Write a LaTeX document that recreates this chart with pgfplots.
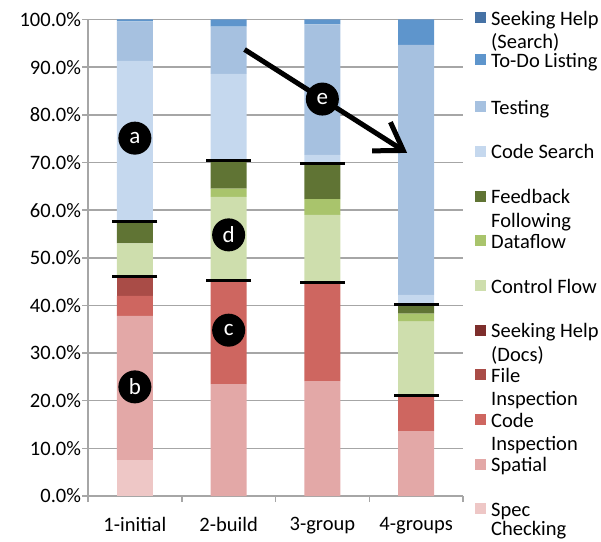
\documentclass[border=0pt]{standalone}
\usepackage{fontspec}
\setmainfont{Carlito}
\usepackage{pgfplots}
\pgfplotsset{compat=1.18}
\usetikzlibrary{arrows.meta}
\definecolor{gridgray}{HTML}{A6A6A6}
\definecolor{cSearch}{HTML}{4672A5}
\definecolor{cTodo}{HTML}{5E95CC}
\definecolor{cTest}{HTML}{A6C1E0}
\definecolor{cCodeS}{HTML}{C5D8EE}
\definecolor{cFeed}{HTML}{607434}
\definecolor{cData}{HTML}{A9C46C}
\definecolor{cCtrl}{HTML}{CEDEAD}
\definecolor{cDocs}{HTML}{7D2E2C}
\definecolor{cFile}{HTML}{A94C47}
\definecolor{cCodeI}{HTML}{CE6660}
\definecolor{cSpat}{HTML}{E3A8A7}
\definecolor{cSpec}{HTML}{EEC7C6}
\newcommand{\lfont}{\fontsize{20.5}{24}\selectfont}
\newcommand{\legitem}[5][31]{%
  \fill[#2] (387,{496-#3-5.5}) rectangle (398,{496-#3+5.5});
  \node[anchor=base west,inner sep=0pt,font=\lfont] at (403,{496-#3-7.5}) {#4};
  \node[anchor=base west,inner sep=0pt,font=\lfont] at (403,{496-#3-#1}) {#5};
}
\tikzset{lett/.style={circle, fill=black, inner sep=0pt, minimum size=33pt, text=white, font=\fontsize{23}{26}\selectfont}}
\begin{document}
\begin{tikzpicture}
\begin{axis}[
  at={(0pt,0pt)}, anchor=south west,
  scale only axis, width=375pt, height=476.5pt,
  ybar stacked, bar width=36pt,
  xmin=-0.5, xmax=3.5, ymin=0, ymax=100,
  xtick={-0.5,0.5,1.5,2.5,3.5},
  x tick label as interval,
  xticklabels={1-initial,2-build,3-group,4-groups},
  ytick={0,10,...,100},
  yticklabel={\pgfmathprintnumber[fixed,fixed zerofill,precision=1,assume math mode=true]{\tick}\%},
  ymajorgrids, grid style={line width=1.5pt, color=gridgray},
  axis x line*=bottom, axis y line*=left,
  axis line style={line width=1.5pt, color=gridgray},
  tick style={line width=1.5pt, color=gridgray},
  tick align=outside, major tick length=6pt,
  tick label style={font=\lfont, text=black},
  xticklabel style={yshift=-12pt},
  yticklabel style={xshift=2.5pt},
  clip=false,
]
\addplot[fill=cSpec, draw=none] coordinates {(0,7.6) (1,0) (2,0) (3,0)};
\addplot[fill=cSpat, draw=none] coordinates {(0,30.2) (1,23.5) (2,24.1) (3,13.6)};
\addplot[fill=cCodeI, draw=none] coordinates {(0,4.2) (1,21.8) (2,20.8) (3,7.4)};
\addplot[fill=cFile, draw=none] coordinates {(0,4.0) (1,0) (2,0) (3,0)};
\addplot[fill=cDocs, draw=none] coordinates {(0,0) (1,0) (2,0) (3,0)};
\addplot[fill=cCtrl, draw=none] coordinates {(0,7.0) (1,17.5) (2,14.1) (3,15.6)};
\addplot[fill=cData, draw=none] coordinates {(0,0) (1,1.7) (2,3.3) (3,1.7)};
\addplot[fill=cFeed, draw=none] coordinates {(0,4.6) (1,5.9) (2,7.5) (3,1.9)};
\addplot[fill=cCodeS, draw=none] coordinates {(0,33.7) (1,18.2) (2,1.8) (3,2.0)};
\addplot[fill=cTest, draw=none] coordinates {(0,8.3) (1,9.9) (2,27.4) (3,52.5)};
\addplot[fill=cTodo, draw=none] coordinates {(0,0.4) (1,1.5) (2,1.0) (3,5.3)};
\addplot[fill=cSearch, draw=none] coordinates {(0,0) (1,0) (2,0) (3,0)};
\end{axis}
\begin{axis}[
  at={(0pt,0pt)}, anchor=south west,
  scale only axis, width=375pt, height=476.5pt,
  xmin=-0.5, xmax=3.5, ymin=0, ymax=100,
  hide axis, clip=false,
]
\addplot[only marks, mark=-, mark size=22.5pt, mark options={line width=3pt, draw=black}]
  coordinates {(0,57.6) (0,46.0) (1,70.5) (1,45.3) (2,69.8) (2,44.9) (3,40.2) (3,21.0)};
\draw[line width=5pt, -{Straight Barb[length=26pt,width=34pt]}] (axis cs:1.17,93.7) -- (axis cs:2.904,72.0);
\node[lett] at (axis cs:0,75.1) {a};
\node[lett] at (axis cs:0,22.9) {b};
\node[lett] at (axis cs:1,34.8) {c};
\node[lett] at (axis cs:1,54.8) {d};
\node[lett] at (axis cs:2,83.3) {e};
\end{axis}
\begin{scope}[x=1pt,y=1pt]
\path[use as bounding box] (-88,-45) rectangle (513,496);
\legitem{cSearch}{18}{Seeking Help}{(Search)}
\legitem{cTodo}{60}{To-Do Listing}{}
\legitem{cTest}{107}{Testing}{}
\legitem{cCodeS}{151.5}{Code Search}{}
\legitem{cFeed}{196.5}{Feedback}{Following}
\legitem{cData}{241}{Dataflow}{}
\legitem{cCtrl}{285.5}{Control Flow}{}
\legitem{cDocs}{330}{Seeking Help}{(Docs)}
\legitem{cFile}{374.5}{File}{Inspection}
\legitem{cCodeI}{419.5}{Code}{Inspection}
\legitem{cSpat}{464}{Spatial}{}
\legitem[26.5]{cSpec}{508.5}{Spec}{Checking}
\end{scope}
\end{tikzpicture}
\end{document}
